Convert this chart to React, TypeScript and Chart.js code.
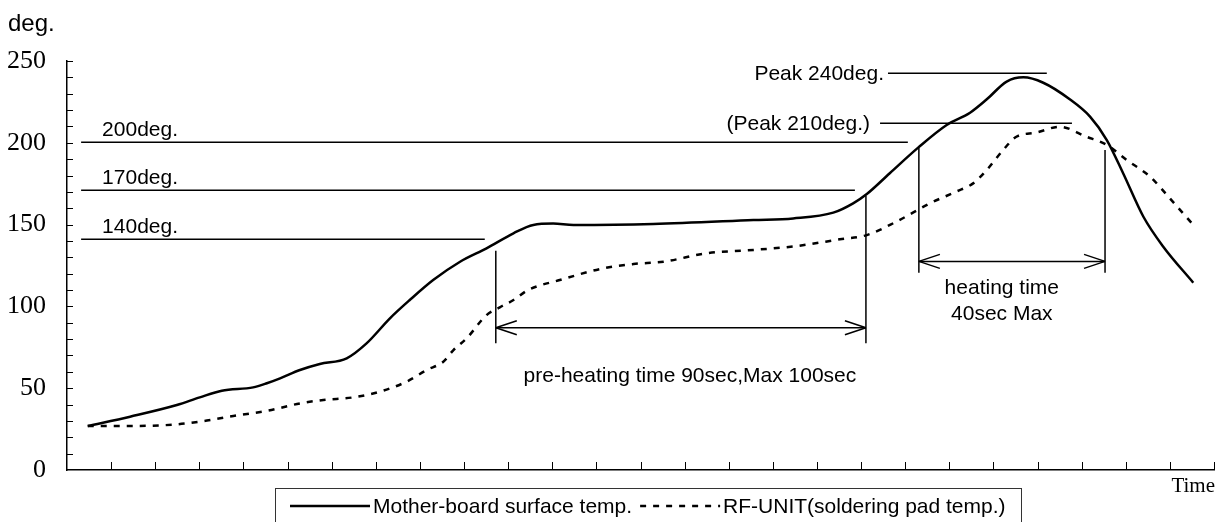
import React, { useEffect, useRef } from 'react';
import { Chart, registerables } from 'chart.js';

Chart.register(...registerables);

// ---- data (time axis in tick units, temperature in deg.) ----
const boardTime = [0.47, 1.43, 2.49, 3.01, 3.51, 4.22, 4.53, 4.83, 5.28, 5.73, 6.34, 6.79, 7.32, 7.77, 8.3, 8.91, 9.51, 10.12, 10.57, 11.02, 11.48, 13.29, 15.56, 16.46, 17.37, 17.82, 18.13, 18.65, 19.3, 19.94, 20.47, 20.85, 21.3, 21.68, 22.13, 22.73, 23.19, 23.57, 23.94, 24.4, 24.85, 25.53];
const boardTemp = [26.9, 32.6, 39.7, 44.4, 48.5, 50.5, 53, 56, 61.1, 64.8, 68.3, 77.4, 92.7, 103.9, 116.1, 127.3, 135.5, 144.7, 149.8, 150.6, 149.8, 150.4, 152.8, 153.8, 157.3, 163, 168.7, 181.4, 197.2, 210.9, 218.4, 226.6, 237.4, 240, 236.7, 226.6, 216, 201.7, 181.4, 154.8, 136.5, 114.5];

const padTime = [0.47, 1.5, 2.49, 3.17, 3.77, 4.53, 5.28, 5.81, 6.49, 7.09, 7.7, 8.15, 8.53, 8.76, 9.06, 9.51, 9.81, 10.12, 10.45, 11.17, 12.16, 12.84, 13.52, 14.5, 15.56, 16.54, 17.52, 18.13, 18.8, 19.56, 20.16, 20.54, 20.85, 21.22, 21.52, 21.97, 22.5, 23.11, 23.57, 24.02, 24.55, 25.0, 25.53];
const padTemp = [26.9, 26.9, 27.9, 30.2, 33, 36.1, 40.7, 42.8, 44.4, 47.9, 54, 61.1, 66.2, 73.3, 80.5, 94.7, 99.4, 103.9, 110, 116.1, 123.3, 125.9, 127.3, 132.5, 134.5, 136.9, 141, 143.6, 151.8, 163, 170.2, 175.2, 183.4, 195.6, 203.7, 206.2, 209.8, 203.7, 198.7, 189.5, 179.3, 166, 149.8];

const seriesLabels = ['Mother-board surface temp.', 'RF-UNIT(soldering pad temp.)'];
const yMin = 0;
const yMax = 250;
const yStep = 50;
const yMinorStep = 10;
const xMin = 0;
const xMax = 26;
const axisTitleY = 'deg.';
const axisTitleX = 'Time';

// ---- annotations (data units) ----
const levelLabels = ['200deg.', '170deg.', '140deg.'];
const levelValues = [200.4, 171, 141];
const levelStart = 0.32;
const levelEnds = [19.06, 17.86, 9.47];

const peakLabels = ['Peak 240deg.', '(Peak 210deg.)'];
const peakValues = [242.5, 212];
const peakStarts = [18.61, 18.43];
const peakEnds = [22.21, 22.78];

const preheatSpan = [9.72, 18.11];
const preheatTops = [134, 167.5];
const preheatBottom = 77.5;
const preheatArrow = 87;
const preheatText = 'pre-heating time 90sec,Max 100sec';
const preheatTextAt = [14.12, 53.9];

const heatingSpan = [19.31, 23.53];
const heatingTops = [197, 195.6];
const heatingBottom = 120.5;
const heatingArrow = 127.5;
const heatingText = ['heating time', '40sec Max'];
const heatingTextX = 21.19;
const heatingTextY = [107.6, 91.7];

const SANS = "'Liberation Sans', Arial, Helvetica, sans-serif";
const SERIF = "'Liberation Serif', 'Times New Roman', serif";

const annotationPlugin = {
  id: 'reflowAnnotations',
  afterDraw(chart: any) {
    const { ctx, chartArea: a, scales } = chart;
    const xs = scales.x;
    const ys = scales.y;
    const px = (v: number) => xs.getPixelForValue(v);
    const py = (v: number) => ys.getPixelForValue(v);
    const line = (x1: number, y1: number, x2: number, y2: number) => {
      ctx.beginPath();
      ctx.moveTo(x1, y1);
      ctx.lineTo(x2, y2);
      ctx.stroke();
    };
    ctx.save();
    ctx.strokeStyle = '#000';
    ctx.fillStyle = '#000';
    ctx.setLineDash([]);

    // inward minor ticks
    ctx.lineWidth = 1;
    for (let v = yMin + yMinorStep; v <= yMax; v += yMinorStep) {
      const yy = Math.round(py(v)) + 0.5;
      line(a.left, yy, a.left + 6, yy);
    }
    for (let i = xMin + 1; i <= xMax; i++) {
      const xx = Math.round(px(i)) + 0.5;
      line(xx, a.bottom, xx, a.bottom - 8);
    }

    // level lines
    ctx.lineWidth = 1.5;
    ctx.font = `21px ${SANS}`;
    ctx.textBaseline = 'alphabetic';
    levelLabels.forEach((lab, i) => {
      const yy = py(levelValues[i]);
      line(px(levelStart), yy, px(levelEnds[i]), yy);
      ctx.textAlign = 'left';
      ctx.fillText(lab, px(levelStart) + 21, yy - 6);
    });

    // peak lines
    peakLabels.forEach((lab, i) => {
      const yy = py(peakValues[i]);
      line(px(peakStarts[i]), yy, px(peakEnds[i]), yy);
      ctx.textAlign = 'right';
      ctx.fillText(lab, px(peakStarts[i]) - (i === 0 ? 4 : 10), yy + 7);
    });

    const arrow = (x1: number, x2: number, yy: number) => {
      line(x1, yy, x2, yy);
      line(x1, yy, x1 + 21, yy - 7);
      line(x1, yy, x1 + 21, yy + 7);
      line(x2, yy, x2 - 21, yy - 7);
      line(x2, yy, x2 - 21, yy + 7);
    };

    // pre-heating span
    preheatSpan.forEach((t, i) => line(px(t), py(preheatTops[i]), px(t), py(preheatBottom)));
    arrow(px(preheatSpan[0]), px(preheatSpan[1]), py(preheatArrow));
    ctx.textAlign = 'center';
    ctx.fillText(preheatText, px(preheatTextAt[0]), py(preheatTextAt[1]));

    // heating span
    heatingSpan.forEach((t, i) => line(px(t), py(heatingTops[i]), px(t), py(heatingBottom)));
    arrow(px(heatingSpan[0]), px(heatingSpan[1]), py(heatingArrow));
    heatingText.forEach((txt, i) => ctx.fillText(txt, px(heatingTextX), py(heatingTextY[i])));

    // axis titles
    ctx.textAlign = 'left';
    ctx.font = `24px ${SANS}`;
    ctx.fillText(axisTitleY, 8, 31);
    ctx.textAlign = 'right';
    ctx.font = `21px ${SERIF}`;
    ctx.fillText(axisTitleX, a.right + 1, a.bottom + 22);

    // legend
    const ds = chart.data.datasets;
    ctx.font = `21px ${SANS}`;
    const sample = 80;
    const gap = 3;
    const between = 8;
    const pad = 15;
    const w1 = ctx.measureText(ds[0].label).width;
    const w2 = ctx.measureText(ds[1].label).width;
    const inner = sample + gap + w1 + between + sample + gap + w2;
    const boxW = Math.round(inner + pad * 2);
    const left = Math.round(648 - boxW / 2);
    const top = a.bottom + 18;
    const cy = top + 18;
    ctx.lineWidth = 1;
    ctx.strokeStyle = '#333';
    ctx.strokeRect(left + 0.5, top + 0.5, boxW, 60);
    ctx.strokeStyle = '#000';
    let cx = left + pad;
    ctx.textAlign = 'left';
    ctx.textBaseline = 'middle';
    [0, 1].forEach((k) => {
      ctx.lineWidth = ds[k].borderWidth;
      ctx.setLineDash(ds[k].borderDash || []);
      line(cx, cy, cx + sample, cy);
      ctx.setLineDash([]);
      cx += sample + gap;
      ctx.fillText(ds[k].label, cx, cy + 1);
      cx += (k === 0 ? w1 : w2) + between;
    });
    ctx.restore();
  },
};

export default function App() {
  const ref = useRef<HTMLCanvasElement | null>(null);
  useEffect(() => {
    if (!ref.current) return;
    const chart = new Chart(ref.current, {
      type: 'line',
      data: {
        datasets: [
          {
            label: seriesLabels[0],
            data: boardTime.map((t, i) => ({ x: t, y: boardTemp[i] })),
            borderColor: '#000',
            borderWidth: 2.5,
            pointRadius: 0,
            cubicInterpolationMode: 'monotone',
            fill: false,
          },
          {
            label: seriesLabels[1],
            data: padTime.map((t, i) => ({ x: t, y: padTemp[i] })),
            borderColor: '#000',
            borderWidth: 2.5,
            borderDash: [6, 7],
            pointRadius: 0,
            cubicInterpolationMode: 'monotone',
            fill: false,
          },
        ],
      },
      options: {
        responsive: false,
        animation: false,
        devicePixelRatio: 1,
        layout: { padding: { top: 61, right: 6, left: 0, bottom: 0 } },
        plugins: { legend: { display: false }, tooltip: { enabled: false }, title: { display: false } },
        scales: {
          x: {
            type: 'linear',
            min: xMin,
            max: xMax,
            ticks: { display: false },
            grid: { display: false, drawTicks: false },
            border: { display: true, color: '#000', width: 1.5 },
            afterFit: (s: any) => { s.height = 52; },
          },
          y: {
            min: yMin,
            max: yMax,
            ticks: { stepSize: yStep, padding: 21, color: '#000', font: { family: SERIF, size: 26 } },
            grid: { display: false, drawTicks: false },
            border: { display: true, color: '#000', width: 1.5 },
            afterFit: (s: any) => { s.width = 67; },
          },
        },
      } as any,
      plugins: [annotationPlugin],
    });
    return () => chart.destroy();
  }, []);
  return (
    <div style={{ position: 'fixed', left: 0, top: 0, width: 1220, height: 522, background: '#fff' }}>
      <canvas ref={ref} width={1220} height={522} style={{ display: 'block', width: 1220, height: 522 }} />
    </div>
  );
}
